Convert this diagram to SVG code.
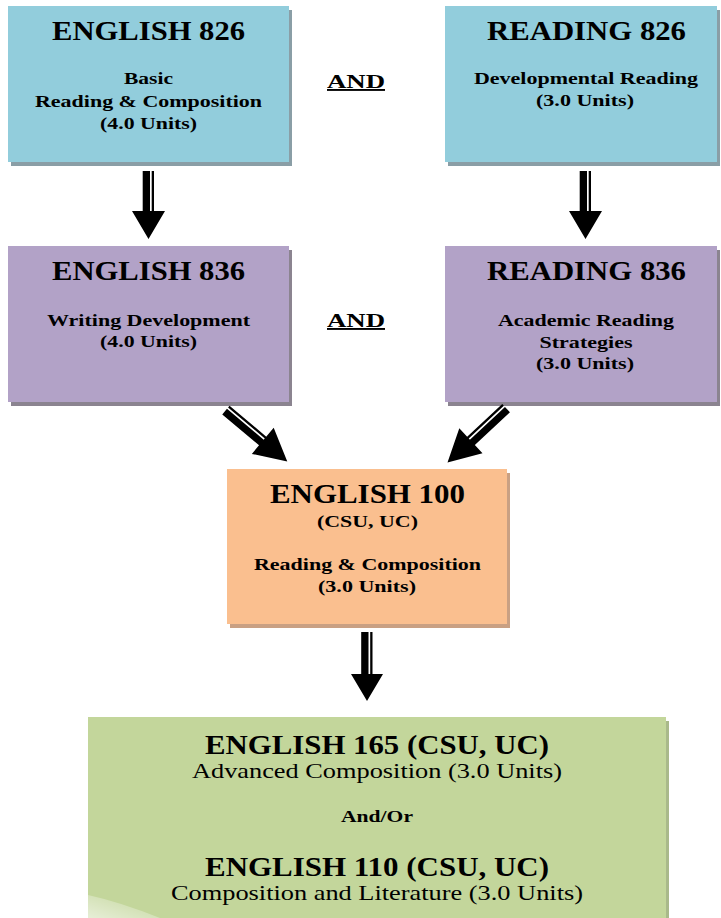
<svg xmlns="http://www.w3.org/2000/svg" width="721" height="918" viewBox="0 0 721 918" font-family="Liberation Serif, Tinos, Times New Roman, Nimbus Roman, serif">
<style>
text{font-family:'Liberation Serif',Tinos,'Times New Roman','Nimbus Roman',serif;fill:#000;text-anchor:middle}
.t{font-size:27px;font-weight:bold}
.s{font-size:17.5px;font-weight:bold}
.r{font-size:21px}
.and{font-size:19px;font-weight:bold;text-decoration:underline}
.blue{fill:#92cddc}.blueS{fill:#8a9ea6}
.pur{fill:#b2a2c7}.purS{fill:#8b8490}
.org{fill:#fabf8f}.orgS{fill:#c9a083}
.grn{fill:#c3d69b}.grnS{fill:#a9b98a}
.arr{fill:#000}
</style>
<defs>
<linearGradient id="glare" x1="0" y1="1" x2="1" y2="0">
<stop offset="0" stop-color="#ffffff" stop-opacity="0.6"/>
<stop offset="1" stop-color="#ffffff" stop-opacity="0"/>
</linearGradient>
</defs>
<rect width="721" height="918" fill="#fff"/>

<g id="eng826">
<rect class="blueS" x="11" y="10" width="281" height="156"/>
<rect class="blue" x="8" y="6" width="281" height="156"/>
<text class="t" x="148.5" y="40" textLength="193" lengthAdjust="spacingAndGlyphs">ENGLISH 826</text>
<text class="s" x="148.5" y="84" textLength="49" lengthAdjust="spacingAndGlyphs">Basic</text>
<text class="s" x="148.5" y="107" textLength="227" lengthAdjust="spacingAndGlyphs">Reading &amp; Composition</text>
<text class="s" x="148.5" y="129" textLength="97" lengthAdjust="spacingAndGlyphs">(4.0 Units)</text>
</g>

<g id="and1">
<text class="and" x="356" y="88" textLength="58" lengthAdjust="spacingAndGlyphs">AND</text>
</g>

<g id="rdg826">
<rect class="blueS" x="448" y="10" width="272" height="156"/>
<rect class="blue" x="445" y="6" width="272" height="156"/>
<text class="t" x="586.5" y="40" textLength="199" lengthAdjust="spacingAndGlyphs">READING 826</text>
<text class="s" x="586" y="84" textLength="224" lengthAdjust="spacingAndGlyphs">Developmental Reading</text>
<text class="s" x="585" y="106" textLength="98" lengthAdjust="spacingAndGlyphs">(3.0 Units)</text>
</g>

<g id="eng836">
<rect class="purS" x="11" y="250" width="281" height="156"/>
<rect class="pur" x="8" y="246" width="281" height="156"/>
<text class="t" x="148.5" y="280" textLength="193" lengthAdjust="spacingAndGlyphs">ENGLISH 836</text>
<text class="s" x="148.5" y="326" textLength="203" lengthAdjust="spacingAndGlyphs">Writing Development</text>
<text class="s" x="148.5" y="347" textLength="97" lengthAdjust="spacingAndGlyphs">(4.0 Units)</text>
</g>

<g id="and2">
<text class="and" x="356" y="327" textLength="58" lengthAdjust="spacingAndGlyphs">AND</text>
</g>

<g id="rdg836">
<rect class="purS" x="448" y="250" width="272" height="156"/>
<rect class="pur" x="445" y="246" width="272" height="156"/>
<text class="t" x="586.5" y="280" textLength="199" lengthAdjust="spacingAndGlyphs">READING 836</text>
<text class="s" x="586" y="326" textLength="176" lengthAdjust="spacingAndGlyphs">Academic Reading</text>
<text class="s" x="586" y="348" textLength="93" lengthAdjust="spacingAndGlyphs">Strategies</text>
<text class="s" x="585" y="369" textLength="98" lengthAdjust="spacingAndGlyphs">(3.0 Units)</text>
</g>

<g id="eng100">
<rect class="orgS" x="230" y="473" width="280" height="155"/>
<rect class="org" x="227" y="469" width="280" height="155"/>
<text class="t" x="367.5" y="503" textLength="195" lengthAdjust="spacingAndGlyphs">ENGLISH 100</text>
<text class="s" x="367.5" y="527" textLength="101" lengthAdjust="spacingAndGlyphs">(CSU, UC)</text>
<text class="s" x="367.5" y="570" textLength="227" lengthAdjust="spacingAndGlyphs">Reading &amp; Composition</text>
<text class="s" x="367" y="592" textLength="98" lengthAdjust="spacingAndGlyphs">(3.0 Units)</text>
</g>

<g id="eng165_110">
<rect class="grnS" x="91" y="721" width="578" height="200"/>
<rect class="grn" x="88" y="717" width="578" height="205"/>
<path d="M88 918 L88 895 Q120 902 160 918 Z" fill="url(#glare)"/>
<text class="t" x="377" y="754" textLength="344" lengthAdjust="spacingAndGlyphs">ENGLISH 165 (CSU, UC)</text>
<text class="r" x="377" y="778" textLength="370" lengthAdjust="spacingAndGlyphs">Advanced Composition (3.0 Units)</text>
<text class="s" x="377" y="822" textLength="72" lengthAdjust="spacingAndGlyphs">And/Or</text>
<text class="t" x="377" y="876" textLength="344" lengthAdjust="spacingAndGlyphs">ENGLISH 110 (CSU, UC)</text>
<text class="r" x="377" y="900" textLength="412" lengthAdjust="spacingAndGlyphs">Composition and Literature (3.0 Units)</text>
</g>

<g id="connectors">
<path class="arr" transform="translate(148.5,171) rotate(90)" d="M0 -1.5 H40 V5.8 H0 Z M0 -5.5 H40 V-3.2 H0 Z M40 -16.5 L68 0 L40 16.5 Z"/>
<path class="arr" transform="translate(585.5,171) rotate(90)" d="M0 -1.5 H40 V5.8 H0 Z M0 -5.5 H40 V-3.2 H0 Z M40 -16.5 L68 0 L40 16.5 Z"/>
<path class="arr" transform="translate(226,410) rotate(40)" d="M0 -1.5 H48 V5.8 H0 Z M0 -5.5 H48 V-3.2 H0 Z M48 -17 L80 0 L48 17 Z"/>
<path class="arr" transform="translate(506,408) rotate(137) scale(1,-1)" d="M0 -1.5 H48 V5.8 H0 Z M0 -5.5 H48 V-3.2 H0 Z M48 -17 L80 0 L48 17 Z"/>
<path class="arr" transform="translate(367,632) rotate(90)" d="M0 -1.5 H42 V5.8 H0 Z M0 -5.5 H42 V-3.2 H0 Z M42 -16 L69 0 L42 16 Z"/>
</g>
</svg>
